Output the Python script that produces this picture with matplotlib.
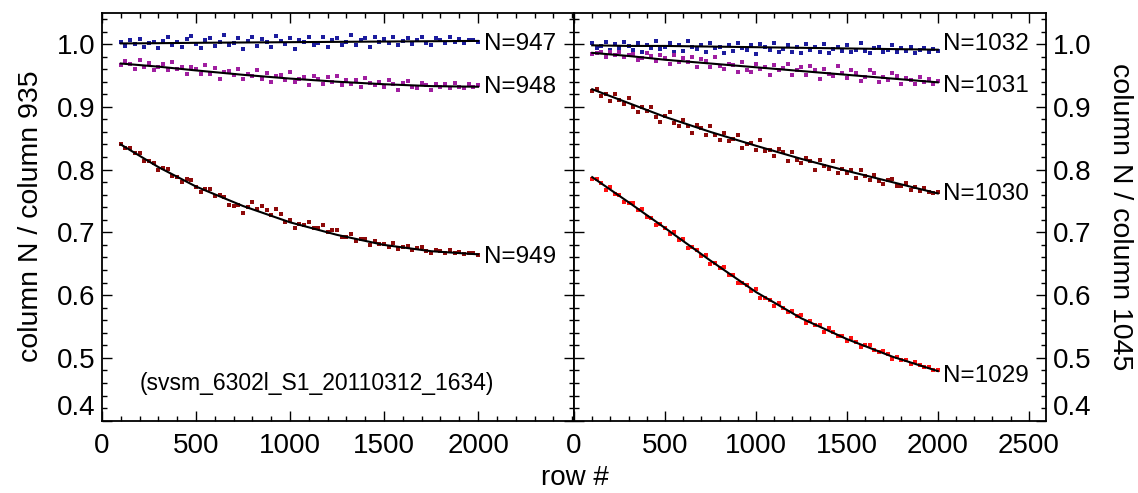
import numpy as np
import matplotlib
matplotlib.use("Agg")
import matplotlib.pyplot as plt
from matplotlib.ticker import MultipleLocator

plt.rcParams['font.family'] = ['Liberation Sans', 'DejaVu Sans']

rows = list(range(100, 2001, 25))

n947 = [1003, 997, 1006, 1000, 1008, 995, 1001, 1004, 993, 1005,
        1011, 999, 1003, 995, 1008, 1013, 1000, 993, 1006, 1010,
        997, 1004, 1014, 998, 1001, 1009, 992, 1005, 1011, 997,
        1008, 1003, 995, 1013, 1005, 1000, 1009, 992, 1007, 1004,
        1011, 998, 1001, 1012, 996, 1006, 1009, 999, 1004, 1015,
        998, 1006, 1009, 995, 1011, 1003, 1008, 1001, 1012, 998,
        1005, 1009, 1000, 1007, 1011, 1002, 999, 1009, 1007, 1002,
        1011, 1004, 1008, 1001, 1007, 1006, 1003]
n948 = [966, 973, 969, 961, 975, 964, 970, 958, 964, 969,
        958, 972, 960, 963, 952, 964, 960, 952, 966, 953,
        962, 945, 955, 957, 950, 960, 945, 953, 949, 959,
        945, 954, 940, 949, 951, 943, 956, 939, 944, 947,
        935, 949, 944, 937, 947, 939, 949, 934, 942, 937,
        943, 931, 946, 938, 934, 940, 931, 942, 937, 927,
        938, 941, 932, 930, 938, 934, 927, 937, 932, 936,
        930, 938, 932, 930, 936, 931, 934]
n949 = [841, 834, 834, 826, 826, 814, 813, 811, 799, 802,
        801, 790, 789, 781, 785, 784, 772, 765, 769, 769,
        758, 759, 756, 744, 742, 744, 731, 741, 749, 737,
        742, 736, 728, 737, 729, 717, 720, 707, 714, 711,
        717, 707, 707, 711, 700, 704, 704, 692, 693, 698,
        686, 689, 689, 680, 687, 681, 682, 677, 683, 673,
        677, 678, 672, 675, 676, 670, 667, 672, 670, 667,
        672, 667, 669, 665, 667, 667, 664]
n1032 = [1001, 993, 997, 1004, 990, 1000, 993, 1004, 997, 991,
         1001, 987, 998, 994, 1005, 992, 995, 1001, 987, 999,
         989, 1005, 995, 992, 998, 988, 1002, 993, 996, 985,
         999, 989, 1002, 993, 990, 998, 984, 1000, 995, 990,
         1002, 987, 992, 998, 988, 995, 985, 1000, 991, 995,
         988, 1000, 985, 992, 996, 989, 998, 987, 991, 1001,
         989, 985, 994, 996, 987, 991, 998, 988, 993, 989,
         995, 986, 991, 993, 987, 992, 989]
n1031 = [984, 986, 987, 980, 987, 982, 988, 979, 983, 984,
         975, 977, 986, 981, 973, 982, 977, 969, 983, 971,
         978, 972, 979, 963, 976, 973, 964, 980, 965, 960,
         969, 966, 955, 971, 959, 955, 968, 960, 963, 951,
         967, 958, 962, 969, 951, 958, 963, 951, 965, 959,
         945, 961, 953, 949, 965, 954, 946, 959, 954, 941,
         947, 959, 954, 940, 947, 943, 954, 949, 936, 946,
         943, 936, 948, 940, 945, 936, 941]
n1030 = [926, 929, 917, 921, 910, 920, 911, 905, 914, 899,
         891, 900, 894, 899, 883, 876, 886, 891, 875, 869,
         879, 870, 858, 871, 866, 855, 870, 855, 847, 859,
         846, 849, 855, 835, 840, 843, 832, 847, 830, 831,
         822, 833, 828, 814, 828, 816, 811, 819, 813, 800,
         815, 806, 801, 813, 795, 801, 794, 799, 786, 799,
         790, 784, 791, 782, 777, 784, 785, 774, 774, 778,
         767, 772, 766, 771, 764, 763, 764]
n1029 = [785, 785, 778, 768, 772, 761, 759, 748, 747, 746,
         735, 738, 725, 723, 711, 714, 707, 698, 701, 688,
         689, 675, 676, 672, 663, 664, 650, 651, 643, 645,
         632, 632, 619, 619, 616, 606, 610, 596, 595, 593,
         582, 587, 580, 573, 575, 566, 568, 556, 558, 552,
         553, 542, 548, 541, 535, 535, 527, 531, 525, 517,
         521, 520, 512, 509, 511, 506, 498, 502, 496, 497,
         491, 494, 488, 485, 486, 480, 480]

# polynomial fits, read at a few rows
fit_rows = [100, 300, 500, 750, 1000, 1250, 1500, 1750, 2000]
fit947 = [1.001, 1.0014, 1.002, 1.0025, 1.003, 1.0035, 1.004, 1.0045, 1.005]
fit948 = [0.969, 0.964, 0.958, 0.951, 0.945, 0.940, 0.936, 0.933, 0.932]
fit949 = [0.840, 0.804, 0.773, 0.742, 0.716, 0.696, 0.680, 0.670, 0.665]
fit1032 = [0.998, 0.997, 0.997, 0.996, 0.995, 0.994, 0.993, 0.992, 0.991]
fit1031 = [0.986, 0.981, 0.975, 0.969, 0.963, 0.957, 0.951, 0.945, 0.939]
fit1030 = [0.928, 0.906, 0.884, 0.860, 0.838, 0.817, 0.798, 0.780, 0.762]
fit1029 = [0.788, 0.748, 0.707, 0.655, 0.605, 0.563, 0.530, 0.502, 0.479]

left_names = ["N=947", "N=948", "N=949"]
left_label_y = [1.000, 0.932, 0.661]
right_names = ["N=1032", "N=1031", "N=1030", "N=1029"]
right_label_y = [1.000, 0.933, 0.761, 0.471]

blue = '#1c1c9e'
purple = '#a01ea0'
darkred = '#8e0a0a'
red = '#ff1010'

fig = plt.figure(figsize=(11.38, 4.93), dpi=100)
ax0 = fig.add_axes([0.0896, 0.1467, 0.4148, 0.8276])
ax1 = fig.add_axes([0.5044, 0.1467, 0.4148, 0.8276])

left = [(n947, fit947, blue), (n948, fit948, purple), (n949, fit949, darkred)]
right = [(n1032, fit1032, blue), (n1031, fit1031, purple),
         (n1030, fit1030, darkred), (n1029, fit1029, red)]

for ax, series in [(ax0, left), (ax1, right)]:
    for vals, fit, c in series:
        ax.plot(rows, np.array(vals) / 1000., 's', ms=2.8, mew=0, color=c)
        ax.plot(fit_rows, fit, '-', color='black', lw=1.5)

for name, y in zip(left_names, left_label_y):
    ax0.text(2030, y, name, fontsize=17.5, va='center', ha='left')
for name, y in zip(right_names, right_label_y):
    ax1.text(2030, y, name, fontsize=17.5, va='center', ha='left')

ax0.text(1144, 0.459, "(svsm_6302l_S1_20110312_1634)", fontsize=16.5,
         ha='center', va='center')

ax0.set_xlim(0, 2510)
ax1.set_xlim(0, 2595)
for ax in (ax0, ax1):
    ax.set_ylim(0.4, 1.05)
    ax.xaxis.set_minor_locator(MultipleLocator(100))
    ax.yaxis.set_major_locator(MultipleLocator(0.1))
    ax.yaxis.set_minor_locator(MultipleLocator(0.02))
    ax.tick_params(which='both', direction='in', top=True, bottom=True,
                   left=True, right=True, width=1.0, labelsize=20)
    ax.tick_params(which='major', length=7)
    ax.tick_params(which='minor', length=3.5)
    ax.tick_params(axis='x', pad=9)
    for s in ax.spines.values():
        s.set_linewidth(1.3)

ax0.set_xticks([0, 500, 1000, 1500, 2000])
ax1.set_xticks([0, 500, 1000, 1500, 2000, 2500])
ax0.set_yticks([0.4, 0.5, 0.6, 0.7, 0.8, 0.9, 1.0])
ax0.set_yticklabels(["0.4", "0.5", "0.6", "0.7", "0.8", "0.9", "1.0"])
ax1.set_yticks([0.4, 0.5, 0.6, 0.7, 0.8, 0.9, 1.0])
ax1.set_yticklabels(["0.4", "0.5", "0.6", "0.7", "0.8", "0.9", "1.0"])
ax0.tick_params(axis='y', labelleft=True, labelright=False, pad=5)
ax1.tick_params(axis='y', labelleft=False, labelright=True, pad=5)

# the lowest y label sits above its tick, as in the original
ax0.get_yticklabels()[0].set_va('bottom')
for t in ax1.get_yticklabels():
    if t.get_text() == "0.4":
        t.set_va('bottom')

ax0.set_ylabel("column N / column 935", fontsize=20.5, labelpad=9)
ax1.yaxis.set_label_position('right')
ax1.set_ylabel("column N / column 1045", fontsize=20.5, rotation=270,
               labelpad=30)
fig.text(0.505, 0.004, "row #", fontsize=20, ha='center', va='bottom')

fig.savefig("out.png", dpi=100)
